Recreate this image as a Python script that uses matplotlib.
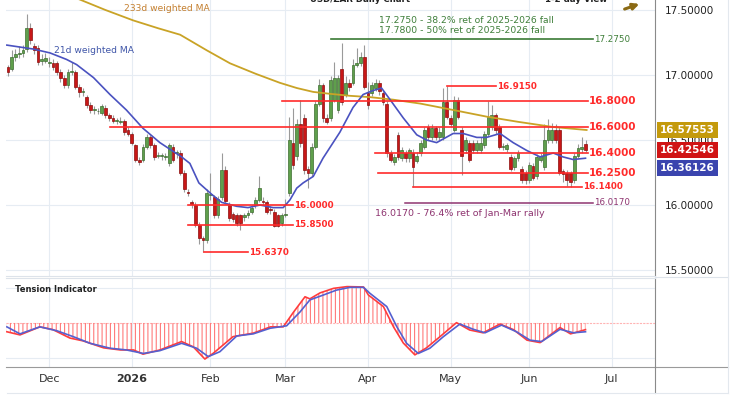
import numpy as np
import pandas as pd
import matplotlib
matplotlib.use('Agg')
import matplotlib.pyplot as plt
from matplotlib.patches import Rectangle, FancyArrowPatch
from matplotlib.lines import Line2D

plt.rcParams['font.family'] = ['DejaVu Sans']
plt.rcParams['hatch.linewidth'] = 0.8
plt.rcParams['hatch.color'] = '#ff7a7a'

# daily candles, USD/ZAR, first bar 14 Nov 2025
opens = [17.06, 17.05, 17.14, 17.16, 17.17, 17.20, 17.36, 17.22, 17.21, 17.11,
         17.11, 17.09, 17.09, 17.09, 17.02, 16.98, 16.92, 17.02, 17.02, 16.91,
         16.87, 16.83, 16.77, 16.73, 16.72, 16.71, 16.75, 16.69, 16.67, 16.65,
         16.64, 16.65, 16.58, 16.55, 16.46, 16.35, 16.35, 16.45, 16.52, 16.46,
         16.38, 16.38, 16.37, 16.32, 16.45, 16.40, 16.40, 16.25, 16.10, 16.02,
         16.00, 15.85, 15.75, 15.73, 16.08, 16.06, 15.92, 16.06, 16.27, 16.00,
         15.93, 15.92, 15.92, 15.91, 15.92, 15.95, 16.00, 16.04, 16.03, 16.02,
         15.97, 15.95, 15.92, 15.86, 15.92, 16.09, 16.48, 16.38, 16.62, 16.67,
         16.28, 16.25, 16.45, 16.78, 16.92, 16.67, 16.67, 16.81, 16.73, 17.05,
         16.85, 16.94, 16.94, 17.08, 17.09, 17.14, 16.86, 16.86, 16.90, 16.94,
         16.86, 16.78, 16.40, 16.33, 16.54, 16.36, 16.40, 16.36, 16.40, 16.34,
         16.40, 16.45, 16.60, 16.52, 16.59, 16.52, 16.52, 16.79, 16.67, 16.58,
         16.81, 16.58, 16.42, 16.48, 16.48, 16.42, 16.42, 16.46, 16.55, 16.60,
         16.69, 16.60, 16.45, 16.43, 16.37, 16.29, 16.36, 16.28, 16.25, 16.19,
         16.30, 16.22, 16.35, 16.29, 16.50, 16.50, 16.58, 16.58, 16.26, 16.25,
         16.25, 16.19, 16.38, 16.43, 16.47]
closes = [17.02, 17.14, 17.16, 17.17, 17.19, 17.36, 17.27, 17.19, 17.10, 17.12,
          17.13, 17.10, 17.06, 17.02, 16.98, 16.92, 17.02, 17.03, 16.91, 16.87,
          16.87, 16.77, 16.73, 16.73, 16.72, 16.76, 16.69, 16.67, 16.65, 16.65,
          16.65, 16.56, 16.55, 16.48, 16.35, 16.33, 16.45, 16.52, 16.46, 16.37,
          16.38, 16.38, 16.37, 16.46, 16.35, 16.40, 16.25, 16.12, 16.09, 16.01,
          15.85, 15.75, 15.73, 16.09, 16.08, 15.92, 16.05, 16.27, 16.03, 15.90,
          15.89, 15.86, 15.86, 15.92, 15.94, 15.98, 16.04, 16.13, 16.02, 15.95,
          15.96, 15.84, 15.84, 15.92, 15.93, 16.50, 16.31, 16.62, 16.48, 16.27,
          16.25, 16.45, 16.78, 16.92, 16.67, 16.64, 16.96, 16.98, 16.98, 16.79,
          16.94, 16.91, 17.08, 17.09, 17.14, 16.91, 16.77, 16.92, 16.94, 16.88,
          16.79, 16.40, 16.35, 16.37, 16.37, 16.42, 16.36, 16.42, 16.29, 16.38,
          16.48, 16.58, 16.52, 16.59, 16.52, 16.56, 16.79, 16.68, 16.62, 16.81,
          16.68, 16.38, 16.50, 16.35, 16.42, 16.48, 16.48, 16.55, 16.68, 16.69,
          16.58, 16.45, 16.45, 16.46, 16.28, 16.36, 16.40, 16.19, 16.19, 16.31,
          16.21, 16.37, 16.38, 16.50, 16.58, 16.58, 16.50, 16.25, 16.24, 16.19,
          16.18, 16.38, 16.44, 16.45, 16.425]
highs = [17.08, 17.19, 17.20, 17.22, 17.23, 17.47, 17.40, 17.25, 17.23, 17.16,
         17.17, 17.14, 17.12, 17.11, 17.05, 17.00, 17.05, 17.10, 17.04, 16.93,
         16.90, 16.85, 16.79, 16.76, 16.75, 16.78, 16.77, 16.71, 16.69, 16.67,
         16.68, 16.66, 16.60, 16.56, 16.47, 16.37, 16.47, 16.55, 16.54, 16.48,
         16.41, 16.40, 16.40, 16.48, 16.47, 16.42, 16.42, 16.27, 16.12, 16.04,
         16.02, 15.87, 15.76, 16.12, 16.25, 16.08, 16.07, 16.40, 16.30, 16.02,
         15.95, 15.94, 15.93, 15.94, 15.96, 16.00, 16.06, 16.22, 16.06, 16.04,
         15.99, 15.97, 15.93, 15.94, 16.05, 16.68, 16.75, 16.66, 16.81, 16.70,
         16.30, 16.48, 16.80, 16.97, 16.94, 16.70, 16.99, 17.10, 17.00, 17.25,
         16.99, 16.97, 17.12, 17.21, 17.18, 17.23, 16.95, 16.95, 16.97, 16.96,
         16.88, 16.80, 16.42, 16.39, 16.56, 16.45, 16.42, 16.44, 16.43, 16.41,
         16.50, 16.60, 16.62, 16.62, 16.61, 16.60, 16.90, 16.915, 16.69, 16.84,
         16.83, 16.60, 16.52, 16.50, 16.50, 16.50, 16.52, 16.57, 16.80, 16.77,
         16.71, 16.62, 16.48, 16.48, 16.39, 16.38, 16.42, 16.30, 16.27, 16.33,
         16.32, 16.39, 16.40, 16.62, 16.66, 16.63, 16.62, 16.60, 16.28, 16.27,
         16.26, 16.40, 16.47, 16.52, 16.50]
lows = [16.99, 17.03, 17.11, 17.13, 17.14, 17.18, 17.24, 17.16, 17.08, 17.08,
        17.09, 17.06, 17.04, 17.00, 16.95, 16.90, 16.90, 17.00, 16.89, 16.83,
        16.84, 16.75, 16.71, 16.70, 16.70, 16.69, 16.67, 16.65, 16.63, 16.62,
        16.62, 16.54, 16.53, 16.46, 16.33, 16.31, 16.33, 16.43, 16.44, 16.35,
        16.36, 16.35, 16.35, 16.30, 16.33, 16.36, 16.23, 16.10, 16.07, 15.98,
        15.83, 15.70, 15.637, 15.71, 16.04, 15.90, 15.90, 16.04, 16.01, 15.88,
        15.87, 15.84, 15.81, 15.88, 15.90, 15.93, 15.98, 16.02, 16.00, 15.93,
        15.93, 15.83, 15.83, 15.84, 15.91, 16.07, 16.28, 16.35, 16.45, 16.24,
        16.13, 16.22, 16.43, 16.76, 16.64, 16.62, 16.65, 16.79, 16.71, 16.77,
        16.83, 16.88, 16.92, 17.06, 17.07, 16.89, 16.74, 16.84, 16.88, 16.85,
        16.77, 16.37, 16.33, 16.31, 16.35, 16.34, 16.33, 16.33, 16.14, 16.32,
        16.38, 16.43, 16.50, 16.50, 16.50, 16.50, 16.50, 16.66, 16.60, 16.56,
        16.66, 16.23, 16.40, 16.33, 16.40, 16.40, 16.40, 16.44, 16.53, 16.58,
        16.55, 16.43, 16.42, 16.41, 16.26, 16.27, 16.34, 16.17, 16.16, 16.17,
        16.19, 16.20, 16.33, 16.27, 16.48, 16.48, 16.48, 16.23, 16.18, 16.15,
        16.14, 16.17, 16.36, 16.40, 16.41]

# moving averages (bar index, price)
wma21_x = [-0.3, 6.7, 11.2, 15.6, 18.3, 22.8, 27.2, 31.6, 36, 40.5, 46.3, 48.5, 50.9, 54.4,
           57, 61, 64, 67.2, 70.7, 73.4, 75.2, 77, 78.7, 81.4, 84, 88.5, 92, 94.7, 97.3,
           99.6, 101.9, 105.4, 109, 111.6, 114.3, 118.7, 121.4, 125, 127.6, 131.2, 134.7,
           138.3, 141.9, 145.4, 148, 150.7, 154]
wma21_y = [17.23, 17.20, 17.17, 17.12, 17.08, 16.98, 16.85, 16.73, 16.59, 16.48, 16.37, 16.32,
           16.17, 16.08, 16.02, 15.99, 15.98, 16.00, 15.98, 15.98, 16.04, 16.13, 16.17, 16.22,
           16.36, 16.56, 16.75, 16.85, 16.88, 16.90, 16.81, 16.67, 16.54, 16.50, 16.48, 16.55,
           16.55, 16.52, 16.52, 16.55, 16.48, 16.42, 16.37, 16.40, 16.37, 16.35, 16.36]
wma233_x = [0, 10, 19.2, 26, 33.4, 40, 45.9, 53, 59.2, 66, 72.5, 77, 81.4, 86, 91.2, 96.5,
            102.8, 110, 118, 127.6, 136, 145.4, 154.3]
wma233_y = [17.79, 17.68, 17.58, 17.50, 17.42, 17.36, 17.31, 17.19, 17.09, 17.01, 16.94,
            16.90, 16.87, 16.855, 16.84, 16.83, 16.81, 16.78, 16.735, 16.68, 16.64, 16.60,
            16.577]

# tension indicator (bar index, value)
ti_fast_x = [-0.3, 3.2, 8.5, 12, 16.5, 20, 25.5, 30, 33.5, 36, 40.5, 46.3, 49.4, 52.5, 54.8,
             60, 65.4, 70, 73.4, 76, 79.2, 80.5, 83.2, 86.8, 90.4, 94.8, 96.1, 100.1, 102.8,
             105.4, 108.5, 111.6, 115.2, 119.6, 123.1, 126.7, 131.2, 134.8, 138.4, 141.9,
             147.2, 150, 154]
ti_fast_y = [-0.25, -0.34, -0.11, -0.19, -0.43, -0.51, -0.71, -0.77, -0.77, -0.89, -0.77,
             -0.53, -0.68, -1.03, -0.86, -0.39, -0.29, -0.11, -0.11, 0.29, 0.75, 0.69, 0.86,
             0.99, 1.04, 1.03, 0.80, 0.47, -0.11, -0.57, -0.91, -0.71, -0.39, 0.01, -0.20,
             -0.28, -0.03, -0.19, -0.49, -0.56, -0.13, -0.31, -0.19]
ti_slow_x = [-0.3, 3.2, 8.5, 13, 17.4, 21.9, 27.2, 31.6, 36.1, 40.5, 46.3, 50.3, 53.4, 56.5,
             61, 65.4, 69.9, 74.3, 77.9, 80.5, 84.1, 87.6, 91.2, 94.8, 96.5, 101, 103.7, 106.3,
             109.4, 112.5, 116.1, 120.5, 124.1, 127.2, 131.6, 135.6, 139.2, 142.3, 147.2,
             150.8, 154]
ti_slow_y = [-0.11, -0.31, -0.11, -0.22, -0.39, -0.58, -0.72, -0.77, -0.87, -0.79, -0.58,
             -0.72, -0.96, -0.82, -0.37, -0.31, -0.15, -0.08, 0.32, 0.66, 0.80, 0.94, 1.02,
             1.02, 0.85, 0.47, -0.11, -0.58, -0.87, -0.72, -0.39, -0.03, -0.18, -0.28, -0.06,
             -0.25, -0.49, -0.53, -0.18, -0.28, -0.25]

holidays = ['2025-12-25', '2026-01-01']
month_names = ['Dec', '2026', 'Feb', 'Mar', 'Apr', 'May', 'Jun', 'Jul']
month_starts = ['2025-12-01', '2026-01-01', '2026-02-01', '2026-03-01',
                '2026-04-01', '2026-05-01', '2026-06-01', '2026-07-01']

W, H = 735, 400
RED = '#ff2a2a'
GREEN_TXT = '#3f7f3a'
PURPLE = '#8e3470'

days = pd.bdate_range('2025-11-14', '2026-07-31')
days = days[~days.isin(pd.to_datetime(holidays))]
month_idx = [int(np.searchsorted(days, pd.Timestamp(m))) for m in month_starts]

fig = plt.figure(figsize=(W / 100, H / 100), dpi=100)
ax = fig.add_axes([6 / W, 1 - 276 / H, 649 / W, 276 / H])
ax2 = fig.add_axes([6 / W, 1 - 367 / H, 649 / W, 89 / H])

x0, x1 = -0.53, 172.53
for a in (ax, ax2):
    a.set_xlim(x0, x1)
    a.set_xticks(month_idx)
    for xm in month_idx:
        a.axvline(xm, color='#e6ecf3', lw=0.8, zorder=0)

ax.set_ylim(15.454, 17.577)
price_ticks = [15.5, 16.0, 16.5, 17.0, 17.5]
for p in price_ticks:
    ax.axhline(p, color='#e6ecf3', lw=0.8, zorder=0)

# candles
for i in range(len(closes)):
    o, c, h, l = opens[i], closes[i], highs[i], lows[i]
    ax.vlines(i, l, h, color='#9a9a9a', lw=0.8, zorder=2)
    if c >= o:
        fc, ec = '#5f9f4c', '#3d6e30'
    else:
        fc, ec = '#c81717', '#8a0e0e'
    ax.add_patch(Rectangle((i - 0.38, min(o, c)), 0.76, max(abs(c - o), 0.006),
                           facecolor=fc, edgecolor=ec, lw=0.5, zorder=3))

ax.plot(wma233_x, wma233_y, color='#c9a326', lw=1.3, zorder=4)
ax.plot(wma21_x, wma21_y, color='#4a52c0', lw=1.2, zorder=4)

# support / resistance levels: (price, start, end, size)
levels = [(16.80, 73.1, 154.7, 7.5), (16.60, 27.2, 154.7, 7.5), (16.40, 97.9, 154.7, 7.5),
          (16.25, 98.7, 154.7, 7.5), (16.14, 108.0, 153.1, 6.3), (16.915, 117.0, 130.1, 6.3),
          (16.00, 48.0, 76.0, 6.3), (15.85, 48.0, 76.0, 6.3), (15.637, 52.3, 64.0, 6.3)]
for lv, xs, xe, fs in levels:
    ax.plot([xs, xe], [lv, lv], color=RED, lw=1.2, zorder=5)
    ax.text(xe + 0.3, lv, '%.4f' % lv, color=RED, fontsize=fs, fontweight='bold',
            ha='left', va='center', zorder=6)

ax.plot([86.1, 156.0], [17.275, 17.275], color='#3a7a35', lw=1.2, zorder=5)
ax.text(156.3, 17.275, '17.2750', color=GREEN_TXT, fontsize=6.3, ha='left', va='center')
ax.text(98.9, 17.423, '17.2750 - 38.2% ret of 2025-2026 fall', color=GREEN_TXT,
        fontsize=6.7, ha='left', va='center')
ax.text(98.9, 17.346, '17.7800 - 50% ret of 2025-2026 fall', color=GREEN_TXT,
        fontsize=6.7, ha='left', va='center')

ax.plot([105.9, 156.0], [16.017, 16.017], color=PURPLE, lw=1.1, zorder=5)
ax.text(156.3, 16.017, '16.0170', color=PURPLE, fontsize=6.3, ha='left', va='center')
ax.text(97.9, 15.938, '16.0170 - 76.4% ret of Jan-Mar rally', color=PURPLE,
        fontsize=6.8, ha='left', va='center')

ax.text(30.9, 17.508, '233d weighted MA', color='#c47f2e', fontsize=6.6,
        ha='left', va='center')
ax.text(12.3, 17.192, '21d weighted MA', color='#3f55a8', fontsize=6.6,
        ha='left', va='center')

# right price axis
ax.yaxis.tick_right()
ax.set_yticks(price_ticks)
ax.set_yticklabels(['%.5f' % p for p in price_ticks])
ax.tick_params(axis='y', length=0, pad=7, labelsize=7.5, labelcolor='#222222')
ax.tick_params(axis='x', length=0, labelbottom=False)
for s in ['left', 'top']:
    ax.spines[s].set_visible(False)
ax.spines['right'].set_color('#8a8a8a')
ax.spines['bottom'].set_color('#dde3ea')

ytr = ax.get_yaxis_transform()
for val, ypos, col in [(16.57553, 16.577, '#c49a0c'), (16.42546, 16.423, '#d01414'),
                       (16.36126, 16.285, '#3a44ae')]:
    ax.text(1 + 5 / 649, ypos, '%.5f' % val, transform=ytr, color='white', fontsize=7.5,
            fontweight='bold', ha='left', va='center', zorder=10, clip_on=False,
            bbox=dict(boxstyle='square,pad=0.3', facecolor=col, edgecolor='none'))

# tension indicator panel
ax2.set_ylim(-1.257, 1.286)
for g in (1.0, -1.0):
    ax2.axhline(g, color='#e6ecf3', lw=0.8, zorder=0)
ax2.axhline(0, color='#ffb4b4', lw=0.8, ls=(0, (2, 1)), zorder=1)
ax2.fill_between(ti_fast_x, 0, ti_fast_y, facecolor='none', edgecolor='#ff7a7a',
                 hatch='||||', linewidth=0, zorder=2)
ax2.plot(ti_fast_x, ti_fast_y, color='#ff3c3c', lw=1.2, zorder=3)
ax2.plot(ti_slow_x, ti_slow_y, color='#5560d0', lw=1.2, zorder=4)
ax2.text(0.014, 0.87, 'Tension Indicator', transform=ax2.transAxes, fontsize=6.0,
         fontweight='bold', color='#222222', ha='left', va='center')
ax2.set_yticks([])
ax2.set_xticklabels(month_names)
ax2.tick_params(axis='x', length=0, pad=5, labelsize=8, labelcolor='#333333')
ax2.get_xticklabels()[1].set_fontweight('bold')
ax2.spines['left'].set_visible(False)
ax2.spines['top'].set_color('#dde3ea')
ax2.spines['right'].set_color('#8a8a8a')
ax2.spines['bottom'].set_color('#9a9a9a')

# frame lines around the price scale
fl = [([655, 728], [277, 277], '#dde3ea'), ([655, 728], [367, 367], '#9a9a9a'),
      ([655, 655], [367, 393], '#8a8a8a'), ([7, 728], [393, 393], '#e3e8ee'),
      ([728, 728], [0, 393], '#e3e8ee')]
for xs, ys, col in fl:
    fig.add_artist(Line2D([x / W for x in xs], [1 - y / H for y in ys], color=col, lw=0.8))

# header, cut by the top edge as in the source image
fig.text(360 / W, 1 + 0.5 / H, 'USD/ZAR Daily Chart', ha='center', va='center',
         fontsize=6.2, fontweight='bold', color='#222222')
fig.text(576 / W, 1 + 0.5 / H, '1-2 day View', ha='center', va='center',
         fontsize=6.2, fontweight='bold', color='#222222')
fig.add_artist(FancyArrowPatch((622 / W, 1 - 10 / H), (642 / W, 1 - 3 / H),
                               transform=fig.transFigure, arrowstyle='-|>',
                               mutation_scale=9, lw=2.2, color='#8b6a14'))

fig.savefig('out.png', dpi=100)
